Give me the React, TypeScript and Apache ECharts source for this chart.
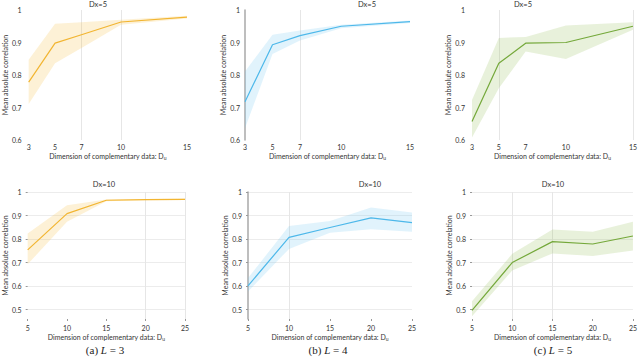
import React, { useEffect, useRef } from "react";
import * as echarts from "echarts";

// ---- data ----
const xTop = [3, 5, 7, 10, 15];
const xBot = [5, 10, 15, 20, 25];
const xTopTicks = [3, 5, 7, 10, 15];

const topL3Mean = [0.778, 0.898, 0.924, 0.963, 0.978];
const topL3Upper = [0.847, 0.958, 0.962, 0.970, 0.982];
const topL3Lower = [0.711, 0.836, 0.883, 0.955, 0.974];

const topL4Mean = [0.718, 0.893, 0.921, 0.950, 0.964];
const topL4Upper = [0.811, 0.924, 0.937, 0.955, 0.968];
const topL4Lower = [0.636, 0.865, 0.906, 0.944, 0.960];

const topL5Mean = [0.657, 0.836, 0.898, 0.900, 0.950];
const topL5Upper = [0.723, 0.914, 0.917, 0.952, 0.962];
const topL5Lower = [0.608, 0.759, 0.872, 0.849, 0.939];

const botL3Mean = [0.754, 0.908, 0.965, 0.968, 0.969];
const botL3Upper = [0.824, 0.944, 0.968, 0.970, 0.972];
const botL3Lower = [0.693, 0.873, 0.961, 0.965, 0.966];

const botL4Mean = [0.601, 0.807, 0.849, 0.890, 0.870];
const botL4Upper = [0.634, 0.855, 0.877, 0.934, 0.913];
const botL4Lower = [0.577, 0.758, 0.827, 0.842, 0.831];

const botL5Mean = [0.497, 0.700, 0.789, 0.779, 0.813];
const botL5Upper = [0.535, 0.737, 0.841, 0.831, 0.873];
const botL5Lower = [0.472, 0.666, 0.739, 0.728, 0.751];

const topTitle = "Dx=5";
const botTitle = "Dx=10";
const yName = "Mean absolute correlation";
const captions = [
  ["(a) ", "L", " = 3"],
  ["(b) ", "L", " = 4"],
  ["(c) ", "L", " = 5"],
];

const FONT = "Lato, Open Sans, sans-serif";
const SERIF = "Liberation Serif, DejaVu Serif, serif";
const ORANGE = "#f2b531";
const ORANGE_BAND = "rgba(245,190,70,0.22)";
const BLUE = "#4db8ea";
const BLUE_BAND = "rgba(120,200,240,0.22)";
const GREEN = "#74a83a";
const GREEN_BAND = "rgba(150,190,90,0.22)";

type Panel = {
  grid: { left: number; top: number; width: number; height: number };
  top: boolean;
  xs: number[];
  mean: number[];
  upper: number[];
  lower: number[];
  color: string;
  band: string;
  vLines: number[];
  darkAxis: boolean;
  yLabelMargin: number;
  yNameGap: number;
};

const panels: Panel[] = [
  { grid: { left: 22, top: 10, width: 165, height: 130 }, top: true, xs: xTop, mean: topL3Mean, upper: topL3Upper, lower: topL3Lower, color: ORANGE, band: ORANGE_BAND, vLines: [7, 10], darkAxis: false, yLabelMargin: 7, yNameGap: 13 },
  { grid: { left: 245, top: 10, width: 165, height: 130 }, top: true, xs: xTop, mean: topL4Mean, upper: topL4Upper, lower: topL4Lower, color: BLUE, band: BLUE_BAND, vLines: [7], darkAxis: true, yLabelMargin: 5, yNameGap: 13 },
  { grid: { left: 472, top: 10, width: 164, height: 130 }, top: true, xs: xTop, mean: topL5Mean, upper: topL5Upper, lower: topL5Lower, color: GREEN, band: GREEN_BAND, vLines: [5, 15], darkAxis: false, yLabelMargin: 7, yNameGap: 15 },
  { grid: { left: 23, top: 192, width: 162, height: 127 }, top: false, xs: xBot, mean: botL3Mean, upper: botL3Upper, lower: botL3Lower, color: ORANGE, band: ORANGE_BAND, vLines: [20, 25], darkAxis: false, yLabelMargin: 6, yNameGap: 14 },
  { grid: { left: 248, top: 192, width: 164, height: 127 }, top: false, xs: xBot, mean: botL4Mean, upper: botL4Upper, lower: botL4Lower, color: BLUE, band: BLUE_BAND, vLines: [10], darkAxis: true, yLabelMargin: 6, yNameGap: 14 },
  { grid: { left: 472, top: 192, width: 163, height: 127 }, top: false, xs: xBot, mean: botL5Mean, upper: botL5Upper, lower: botL5Lower, color: GREEN, band: GREEN_BAND, vLines: [10, 15], darkAxis: false, yLabelMargin: 6, yNameGap: 14 },
];

const titlePos = [
  { x: 98, y: 0, text: topTitle },
  { x: 367, y: 0, text: topTitle },
  { x: 523, y: 0, text: topTitle },
  { x: 104, y: 180, text: botTitle },
  { x: 370, y: 180, text: botTitle },
  { x: 553, y: 180, text: botTitle },
];
const captionX = [105, 328, 553];

export default function App() {
  const ref = useRef<HTMLDivElement>(null);
  useEffect(() => {
    document.body.style.margin = "0";
    if (!ref.current) return;
    const chart = echarts.init(ref.current, undefined, { renderer: "svg" });

    const grids: any[] = [];
    const xAxes: any[] = [];
    const yAxes: any[] = [];
    const series: any[] = [];

    panels.forEach((p, i) => {
      grids.push({ ...p.grid, containLabel: false });
      xAxes.push({
        type: "value",
        gridIndex: i,
        min: p.top ? 3 : 5,
        max: p.top ? 15 : 25,
        ...(p.top ? {} : { interval: 5 }),
        axisLine: { show: false },
        axisTick: p.top
          ? { show: false }
          : { show: true, length: 2, lineStyle: { color: "#999" } },
        axisLabel: {
          fontFamily: FONT,
          fontSize: 7,
          color: "#333",
          margin: p.top ? 3 : 5,
          ...(p.top ? { customValues: xTopTicks } : {}),
        },
        splitLine: { show: false },
        name: "Dimension of complementary data: D{sub|u}",
        nameLocation: "middle",
        nameGap: p.top ? 11 : 13,
        nameTextStyle: {
          fontFamily: FONT,
          fontSize: 7,
          color: "#333",
          rich: { sub: { fontFamily: FONT, fontSize: 5, color: "#333", verticalAlign: "bottom", padding: [4, 0, 0, 0] } },
        },
      });
      yAxes.push({
        type: "value",
        gridIndex: i,
        min: p.top ? 0.6 : 0.46,
        max: 1,
        splitNumber: p.top ? 4 : 5,
        axisLine: p.darkAxis
          ? { show: true, lineStyle: { color: "#a8a8a8", width: 1.5 } }
          : { show: false },
        axisTick: p.top
          ? { show: false }
          : { show: true, length: 2, lineStyle: { color: "#999" } },
        axisLabel: {
          fontFamily: FONT,
          fontSize: 7,
          color: "#333",
          margin: p.yLabelMargin,
          showMinLabel: p.top ? true : false,
          formatter: (v: number) => {
            const r = Math.round(v * 10) / 10;
            if (Math.abs(r - v) > 1e-6) return "";
            return r === 1 ? "1" : r.toFixed(1);
          },
        },
        splitLine: p.top
          ? { show: false }
          : { show: true, showMinLine: false, lineStyle: { color: "#ececec", width: 1 } },
        name: yName,
        nameLocation: "middle",
        nameGap: p.yNameGap,
        nameTextStyle: { fontFamily: FONT, fontSize: 7, color: "#333" },
      });

      // confidence band as one polygon through the axis scales
      const bandData = p.xs.map((x, k) => [x, p.lower[k], p.upper[k]]);
      series.push({
        type: "custom",
        xAxisIndex: i,
        yAxisIndex: i,
        silent: true,
        z: 1,
        data: bandData,
        encode: { x: 0, y: [1, 2] },
        renderItem: (params: any, api: any) => {
          if (params.dataIndex !== 0) return null;
          const up = bandData.map((d) => api.coord([d[0], d[2]]));
          const lo = bandData.map((d) => api.coord([d[0], d[1]])).reverse();
          return {
            type: "polygon",
            shape: { points: up.concat(lo) },
            style: { fill: p.band },
          };
        },
      });
      series.push({
        type: "line",
        xAxisIndex: i,
        yAxisIndex: i,
        data: p.xs.map((x, k) => [x, p.mean[k]]),
        symbol: "none",
        lineStyle: { color: p.color, width: 1.2 },
        z: 3,
        clip: false,
        markLine: {
          silent: true,
          symbol: ["none", "none"],
          label: { show: false },
          lineStyle: { color: "#e6e6e6", type: "solid", width: 1 },
          data: p.vLines.map((v) => ({ xAxis: v })),
          z: 0,
        },
      });
    });

    const graphic: any[] = [];
    titlePos.forEach((t) => {
      graphic.push({
        type: "text",
        x: t.x,
        y: t.y,
        style: {
          text: t.text,
          fontFamily: FONT,
          fontSize: 7.5,
          fill: "#333",
          align: "center",
          verticalAlign: "top",
        },
      });
    });
    captions.forEach((c, i) => {
      graphic.push({
        type: "text",
        x: captionX[i],
        y: 344,
        style: {
          text: `{n|${c[0]}}{it|${c[1]}}{n|${c[2]}}`,
          fontFamily: SERIF,
          fontSize: 11,
          fontWeight: "normal",
          fill: "#222",
          align: "center",
          verticalAlign: "top",
          rich: {
            n: { fontFamily: SERIF, fontSize: 11, fill: "#222", fontWeight: "normal" },
            it: { fontFamily: SERIF, fontStyle: "italic", fontSize: 11, fill: "#222", fontWeight: "normal" },
          },
        },
      });
    });

    chart.setOption({
      animation: false,
      backgroundColor: "#fff",
      grid: grids,
      xAxis: xAxes,
      yAxis: yAxes,
      series,
      graphic,
    });
    return () => chart.dispose();
  }, []);
  return <div ref={ref} style={{ width: 640, height: 361 }} />;
}
